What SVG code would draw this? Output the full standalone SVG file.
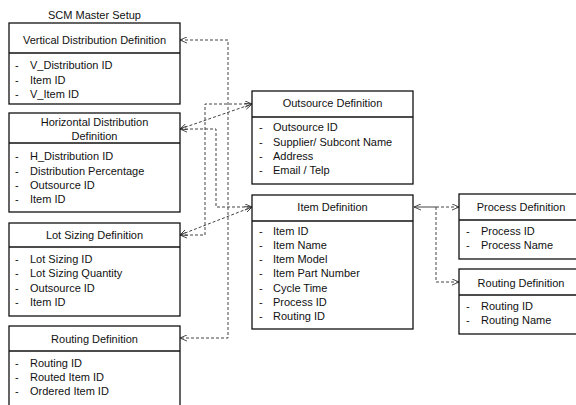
<svg xmlns="http://www.w3.org/2000/svg" width="576" height="405" viewBox="0 0 576 405">
<defs>
<marker id="arr" viewBox="0 0 8 8" refX="8" refY="4" markerWidth="7" markerHeight="7" markerUnits="userSpaceOnUse" orient="auto-start-reverse">
<path d="M0,0.5 L8,4 L0,7.5" fill="none" stroke="#333" stroke-width="1"/>
</marker>
</defs>
<style>
text{font-family:"Liberation Sans",Arial,sans-serif;font-size:11px;fill:#111}
.t{text-anchor:middle}
.box{fill:#fff;stroke:#111;stroke-width:1.3}
.c{fill:none;stroke:#444;stroke-width:1;stroke-dasharray:3 2}
.s{fill:none;stroke:#444;stroke-width:1}
</style>
<rect width="576" height="405" fill="#fff"/>
<text class="t" x="94.5" y="19">SCM Master Setup</text>

<g id="connectors">
<path class="c" d="M180,40 H228 V338 H180" marker-start="url(#arr)" marker-end="url(#arr)"/>
<path class="c" d="M180,129 L252,104" marker-start="url(#arr)" marker-end="url(#arr)"/>
<path class="c" d="M180,129 H216 V207 H252" marker-start="url(#arr)" marker-end="url(#arr)"/>
<path class="c" d="M180,235 H205 V104 H252" marker-start="url(#arr)" marker-end="url(#arr)"/>
<path class="c" d="M180,235 L252,207" marker-start="url(#arr)" marker-end="url(#arr)"/>
<path class="s" d="M414,207 H436" marker-start="url(#arr)"/>
<path class="c" d="M436,207 H459" marker-end="url(#arr)"/>
<path class="c" d="M436,207 V282 H459" marker-end="url(#arr)"/>
</g>

<g id="vertical-distribution">
<rect class="box" x="9" y="23" width="171" height="81"/>
<line class="box" x1="9" y1="53" x2="180" y2="53"/>
<text class="t" x="94.5" y="44">Vertical Distribution Definition</text>
<text x="15" y="69">-</text><text x="30" y="69">V_Distribution ID</text>
<text x="15" y="84">-</text><text x="30" y="84">Item ID</text>
<text x="15" y="98">-</text><text x="30" y="98">V_Item ID</text>
</g>

<g id="horizontal-distribution">
<rect class="box" x="9" y="113" width="171" height="99"/>
<line class="box" x1="9" y1="143" x2="180" y2="143"/>
<text class="t" x="94.5" y="126">Horizontal Distribution</text>
<text class="t" x="94.5" y="140">Definition</text>
<text x="15" y="160">-</text><text x="30" y="160">H_Distribution ID</text>
<text x="15" y="175">-</text><text x="30" y="175">Distribution Percentage</text>
<text x="15" y="189">-</text><text x="30" y="189">Outsource ID</text>
<text x="15" y="203">-</text><text x="30" y="203">Item ID</text>
</g>

<g id="lot-sizing">
<rect class="box" x="9" y="223" width="171" height="93"/>
<line class="box" x1="9" y1="247" x2="180" y2="247"/>
<text class="t" x="94.5" y="239">Lot Sizing Definition</text>
<text x="15" y="263">-</text><text x="30" y="263">Lot Sizing ID</text>
<text x="15" y="277">-</text><text x="30" y="277">Lot Sizing Quantity</text>
<text x="15" y="292">-</text><text x="30" y="292">Outsource ID</text>
<text x="15" y="306">-</text><text x="30" y="306">Item ID</text>
</g>

<g id="routing-left">
<rect class="box" x="9" y="326" width="171" height="90"/>
<line class="box" x1="9" y1="351" x2="180" y2="351"/>
<text class="t" x="94.5" y="343">Routing Definition</text>
<text x="15" y="367">-</text><text x="30" y="367">Routing ID</text>
<text x="15" y="381">-</text><text x="30" y="381">Routed Item ID</text>
<text x="15" y="395">-</text><text x="30" y="395">Ordered Item ID</text>
</g>

<g id="outsource">
<rect class="box" x="252" y="91" width="161" height="93"/>
<line class="box" x1="252" y1="117" x2="413" y2="117"/>
<text class="t" x="332.5" y="107">Outsource Definition</text>
<text x="259" y="131">-</text><text x="273" y="131">Outsource ID</text>
<text x="259" y="146">-</text><text x="273" y="146">Supplier/ Subcont Name</text>
<text x="259" y="160">-</text><text x="273" y="160">Address</text>
<text x="259" y="174">-</text><text x="273" y="174">Email / Telp</text>
</g>

<g id="item">
<rect class="box" x="252" y="195" width="161" height="134"/>
<line class="box" x1="252" y1="221" x2="413" y2="221"/>
<text class="t" x="332.5" y="211">Item Definition</text>
<text x="259" y="235">-</text><text x="273" y="235">Item ID</text>
<text x="259" y="249">-</text><text x="273" y="249">Item Name</text>
<text x="259" y="263">-</text><text x="273" y="263">Item Model</text>
<text x="259" y="277">-</text><text x="273" y="277">Item Part Number</text>
<text x="259" y="292">-</text><text x="273" y="292">Cycle Time</text>
<text x="259" y="306">-</text><text x="273" y="306">Process ID</text>
<text x="259" y="320">-</text><text x="273" y="320">Routing ID</text>
</g>

<g id="process">
<rect class="box" x="459" y="194" width="124" height="65"/>
<line class="box" x1="459" y1="220" x2="583" y2="220"/>
<text class="t" x="521" y="211">Process Definition</text>
<text x="466" y="235">-</text><text x="481" y="235">Process ID</text>
<text x="466" y="249">-</text><text x="481" y="249">Process Name</text>
</g>

<g id="routing-right">
<rect class="box" x="459" y="269" width="124" height="65"/>
<line class="box" x1="459" y1="295" x2="583" y2="295"/>
<text class="t" x="521" y="287">Routing Definition</text>
<text x="466" y="310">-</text><text x="481" y="310">Routing ID</text>
<text x="466" y="324">-</text><text x="481" y="324">Routing Name</text>
</g>
</svg>
